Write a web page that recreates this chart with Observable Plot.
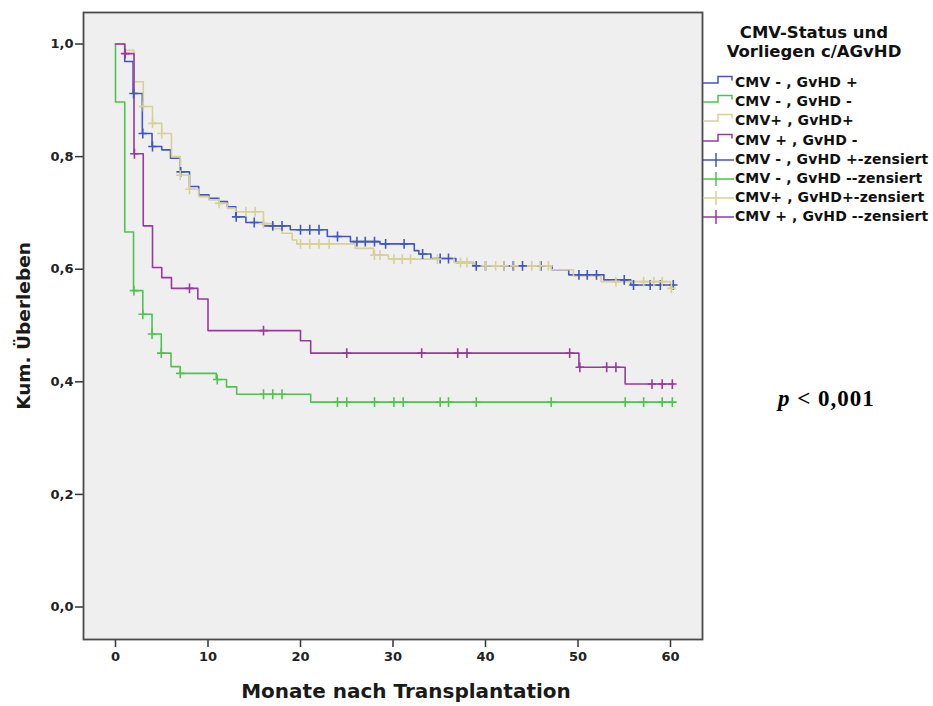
<!DOCTYPE html>
<html>
<head>
<meta charset="utf-8">
<script src="https://cdn.jsdelivr.net/npm/d3@7"></script>
<script src="https://cdn.jsdelivr.net/npm/@observablehq/plot@0.6"></script>
<style>
html, body { margin: 0; padding: 0; background: #fff; overflow: hidden; }
#wrap { position: relative; width: 933px; height: 706px; overflow: hidden; }
#wrap svg.plot { position: absolute; left: 0; top: 0; }
#legend { position: absolute; left: 703px; top: 0; width: 230px; font-family: "DejaVu Sans", sans-serif; font-weight: bold; color: #111; }
#legend .title { position: absolute; left: 0; top: 23px; width: 222px; text-align: center; font-size: 16.5px; line-height: 19px; white-space: nowrap; }
#legend .items { position: absolute; left: 0; top: 73px; width: 230px; }
#legend .row { display: flex; align-items: flex-start; height: 19.2px; font-size: 14px; line-height: 19.2px; letter-spacing: 0.1px; white-space: nowrap; }
#legend .row svg { flex: 0 0 32px; width: 32px; height: 19.2px; }
#pval { position: absolute; left: 778px; top: 387px; font-family: "Liberation Serif", "Times New Roman", serif; font-weight: bold; font-size: 23px; line-height: 23px; letter-spacing: 1px; color: #000; white-space: nowrap; }
</style>
</head>
<body>
<div id="wrap">
  <div id="legend"></div>
  <div id="pval"><i>p</i> &lt; 0,001</div>
</div>
<script>
// ---- data ----
const xTicks = [0, 10, 20, 30, 40, 50, 60];
const yTicks = [0, 0.2, 0.4, 0.6, 0.8, 1.0];
const legendTitle = ["CMV-Status und", "Vorliegen c/AGvHD"];
const seriesNames = ["CMV - , GvHD +", "CMV - , GvHD -", "CMV+ , GvHD+", "CMV + , GvHD -"];
const censorNames = ["CMV - , GvHD +-zensiert", "CMV - , GvHD --zensiert", "CMV+ , GvHD+-zensiert", "CMV + , GvHD --zensiert"];
const colors = ["#4257bd", "#52c152", "#d8d096", "#983a9b"];

// CMV - , GvHD +
const blueT = [1.0, 1.9, 2.9, 3.95, 5.0, 5.95, 7.0, 8.0, 9.0, 10.1, 11.2, 12.1, 13.0, 14.1, 16.0, 18.9, 22.9, 25.4, 28.6, 32.3, 32.8, 34.1, 36.8, 38.7, 47.2, 49.0, 52.8, 55.7];
const blueS = [0.969, 0.912, 0.841, 0.818, 0.812, 0.797, 0.773, 0.747, 0.732, 0.726, 0.720, 0.711, 0.693, 0.683, 0.677, 0.670, 0.658, 0.649, 0.645, 0.633, 0.627, 0.619, 0.612, 0.606, 0.599, 0.590, 0.581, 0.572];
const blueC = [1.95, 2.95, 4.0, 7.05, 13.05, 15.0, 17.0, 18.0, 20.0, 21.0, 22.0, 24.0, 26.1, 27.0, 28.0, 29.2, 31.2, 33.2, 35.1, 36.0, 39.0, 40.0, 42.0, 43.0, 44.0, 46.0, 50.1, 51.0, 52.0, 55.0, 56.0, 57.8, 58.9, 60.3];
const blueEnd = 60.4;

// CMV - , GvHD -
const greenT = [0.0, 1.0, 1.95, 2.95, 3.95, 4.95, 6.0, 7.0, 10.9, 12.0, 13.1, 21.1];
const greenS = [0.897, 0.666, 0.562, 0.520, 0.485, 0.451, 0.427, 0.415, 0.404, 0.391, 0.378, 0.364];
const greenC = [2.0, 2.95, 3.95, 4.95, 7.0, 11.0, 16.0, 17.0, 18.0, 24.0, 25.0, 28.0, 30.1, 31.1, 35.1, 36.0, 39.0, 47.1, 55.1, 57.1, 59.1, 60.2];
const greenEnd = 60.3;

// CMV+ , GvHD+
const yellowT = [1.0, 2.0, 3.0, 4.0, 5.0, 6.05, 7.0, 8.0, 9.0, 10.1, 11.2, 12.1, 13.0, 16.0, 17.1, 18.0, 19.1, 19.6, 25.9, 27.9, 29.5, 36.6, 38.7, 47.1, 49.5, 52.5, 60.0];
const yellowS = [0.989, 0.933, 0.889, 0.859, 0.841, 0.800, 0.767, 0.742, 0.729, 0.723, 0.717, 0.708, 0.702, 0.681, 0.672, 0.664, 0.652, 0.645, 0.637, 0.625, 0.618, 0.612, 0.606, 0.599, 0.588, 0.578, 0.566];
const yellowC = [3.0, 4.0, 5.0, 7.0, 8.0, 11.2, 14.1, 15.1, 16.0, 20.0, 21.0, 22.0, 23.1, 28.0, 28.6, 30.1, 31.0, 31.9, 34.8, 37.3, 38.0, 40.0, 41.1, 42.0, 43.1, 45.0, 45.9, 46.8, 54.1, 57.1, 58.2, 59.1, 60.1];
const yellowEnd = 60.2;

// CMV + , GvHD -
const purpleT = [1.0, 2.0, 3.0, 4.0, 5.0, 6.05, 8.9, 10.0, 20.0, 21.1, 50.1, 55.1];
const purpleS = [0.983, 0.805, 0.677, 0.603, 0.585, 0.566, 0.547, 0.491, 0.473, 0.451, 0.426, 0.396];
const purpleC = [1.05, 2.05, 8.0, 16.0, 25.0, 33.1, 37.0, 38.0, 49.1, 50.2, 53.1, 54.1, 58.0, 59.1, 60.2];
const purpleEnd = 60.3;

// ---- build tables ----
const groups = [
  {T: blueT, S: blueS, C: blueC, end: blueEnd},
  {T: greenT, S: greenS, C: greenC, end: greenEnd},
  {T: yellowT, S: yellowS, C: yellowC, end: yellowEnd},
  {T: purpleT, S: purpleS, C: purpleC, end: purpleEnd}
];
function survAt(T, S, t) { let s = 1; for (let i = 0; i < T.length; i++) if (T[i] <= t) s = S[i]; return s; }
function curvePts(g) {
  const pts = [{x: 0, y: 1}];
  g.T.forEach((t, i) => pts.push({x: t, y: g.S[i]}));
  pts.push({x: g.end, y: g.S[g.S.length - 1]});
  return pts;
}
function censorPts(g) { return g.C.map(t => ({x: t, y: survAt(g.T, g.S, t)})); }

const plusSymbol = {
  draw(context, size) {
    const r = Math.sqrt(size / Math.PI);
    context.moveTo(-r, 0); context.lineTo(r, 0);
    context.moveTo(0, -r * 1.15); context.lineTo(0, r * 1.15);
  }
};

const lineMarks = groups.map((g, i) => Plot.line(curvePts(g), {x: "x", y: "y", curve: "step-after", stroke: colors[i], strokeWidth: 1.6}));
const censorMarks = groups.map((g, i) => Plot.dot(censorPts(g), {x: "x", y: "y", symbol: plusSymbol, r: 4.3, stroke: colors[i], strokeWidth: 1.6, fill: "none"}));

const chart = Plot.plot({
  width: 933,
  height: 706,
  marginLeft: 83,
  marginRight: 231,
  marginTop: 12,
  marginBottom: 67,
  style: {fontFamily: '"DejaVu Sans", sans-serif', fontWeight: "bold", fontSize: "13px", color: "#222", background: "transparent", overflow: "visible"},
  x: {domain: [-3.46, 63.46]},
  y: {domain: [-0.0577, 1.056]},
  marks: [
    Plot.frame({fill: "#efefef", stroke: "none"}),
    ...lineMarks,
    ...censorMarks,
    Plot.axisX({ticks: xTicks, tickSize: 8, tickPadding: 4, stroke: "#333", strokeWidth: 1.5, label: null, fontSize: 13, tickFormat: d => String(d)}),
    Plot.axisY({ticks: yTicks, tickSize: 8, tickPadding: 2, stroke: "#333", strokeWidth: 1.5, label: null, fontSize: 13, tickFormat: d => d.toFixed(1).replace(".", ",")}),
    Plot.frame({stroke: "#4a4a4a", strokeWidth: 1.8}),
    Plot.text(["Monate nach Transplantation"], {text: d => d, frameAnchor: "bottom", dx: 13, dy: 52, lineAnchor: "middle", textAnchor: "middle", fontSize: 20, fontWeight: "bold", fill: "#1a1a1a"}),
    Plot.text(["Kum. Überleben"], {text: d => d, frameAnchor: "left", rotate: -90, dx: -59, lineAnchor: "middle", textAnchor: "middle", fontSize: 18.5, fontWeight: "bold", fill: "#1a1a1a"})
  ]
});
chart.classList.add("plot");
document.getElementById("wrap").prepend(chart);

// ---- legend ----
const legend = document.getElementById("legend");
const title = document.createElement("div");
title.className = "title";
title.innerHTML = legendTitle.join("<br>");
legend.appendChild(title);
const items = document.createElement("div");
items.className = "items";
const ns = "http://www.w3.org/2000/svg";
function row(label, color, kind) {
  const r = document.createElement("div");
  r.className = "row";
  const s = document.createElementNS(ns, "svg");
  s.setAttribute("viewBox", "0 0 32 19.2");
  const p = document.createElementNS(ns, "path");
  p.setAttribute("d", kind === "step" ? "M0,10H15V3.6H29V7.4" : "M0,10H31M13,3V17");
  p.setAttribute("fill", "none");
  p.setAttribute("stroke", color);
  p.setAttribute("stroke-width", "1.5");
  s.appendChild(p);
  r.appendChild(s);
  const t = document.createElement("span");
  t.textContent = label;
  r.appendChild(t);
  items.appendChild(r);
}
seriesNames.forEach((n, i) => row(n, colors[i], "step"));
censorNames.forEach((n, i) => row(n, colors[i], "censor"));
legend.appendChild(items);
</script>
</body>
</html>
